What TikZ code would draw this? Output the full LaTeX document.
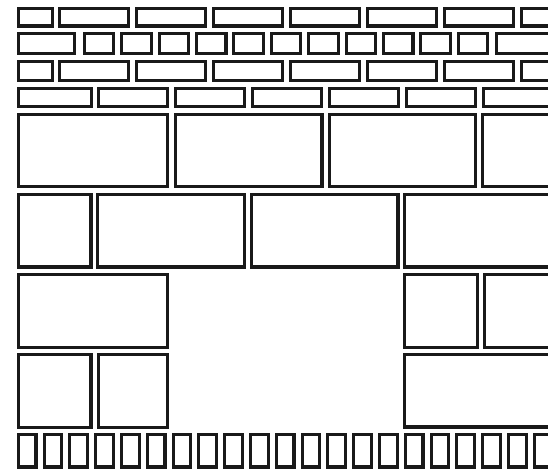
\documentclass[tikz,border=0pt]{standalone}
\begin{document}
\begin{tikzpicture}[x=1pt,y=-1pt,
  brick/.style={draw=black!90,line width=3.1pt,line join=miter}]
\useasboundingbox (0,0) rectangle (548,469);
\clip (0,0) rectangle (548,469);
% outer box: x1,y1,x2,y2 -> stroke centre inset by 1.55
\newcommand\bk[4]{\draw[brick] ({#1+1.55},{#2+1.55}) rectangle ({#3-1.55},{#4-1.55});}
% row 1 and row 3
\foreach \ya/\yb in {7.3/27.5, 60/81.7}{
  \bk{16.7}{\ya}{54}{\yb}
  \foreach \i in {0,...,6}{
    \pgfmathsetmacro\xa{58+77*\i}
    \pgfmathsetmacro\xb{\xa+72}
    \bk{\xa}{\ya}{\xb}{\yb}
  }
}
% row 2
\bk{16.7}{32.3}{76}{55.2}
\foreach \i in {0,...,10}{
  \pgfmathsetmacro\xa{82.7+37.4*\i}
  \pgfmathsetmacro\xb{\xa+32.6}
  \bk{\xa}{32.3}{\xb}{55.2}
}
\bk{494.7}{32.3}{570}{55.2}
% row 4
\bk{16.7}{86.7}{93}{108.4}
\foreach \i in {0,...,5}{
  \pgfmathsetmacro\xa{97+77*\i}
  \pgfmathsetmacro\xb{\xa+72}
  \bk{\xa}{86.7}{\xb}{108.4}
}
% row 5
\bk{16.7}{113.3}{169}{188.3}
\bk{173.5}{113.3}{323.5}{188.3}
\bk{327.8}{113.3}{477}{188.3}
\bk{480.8}{113.3}{633}{188.3}
% row 6
\bk{16.7}{193.3}{92.5}{268.5}
\bk{96}{193.3}{246}{268.5}
\bk{250}{193.3}{399.5}{268.5}
\bk{403.3}{193.3}{600}{268.5}
% row 7
\bk{16.7}{273.3}{169}{349}
\bk{403.3}{273.3}{479}{349}
\bk{483.3}{273.3}{600}{349}
% row 8
\bk{16.7}{353.3}{92.5}{429}
\bk{96.7}{353.3}{169}{429}
\bk{403.3}{353.3}{600}{428.5}
% row 9
\foreach \i in {0,...,20}{
  \pgfmathsetmacro\xa{16.7+25.8*\i}
  \pgfmathsetmacro\xb{\xa+20.8}
  \bk{\xa}{432.7}{\xb}{468.5}
}
\end{tikzpicture}
\end{document}
